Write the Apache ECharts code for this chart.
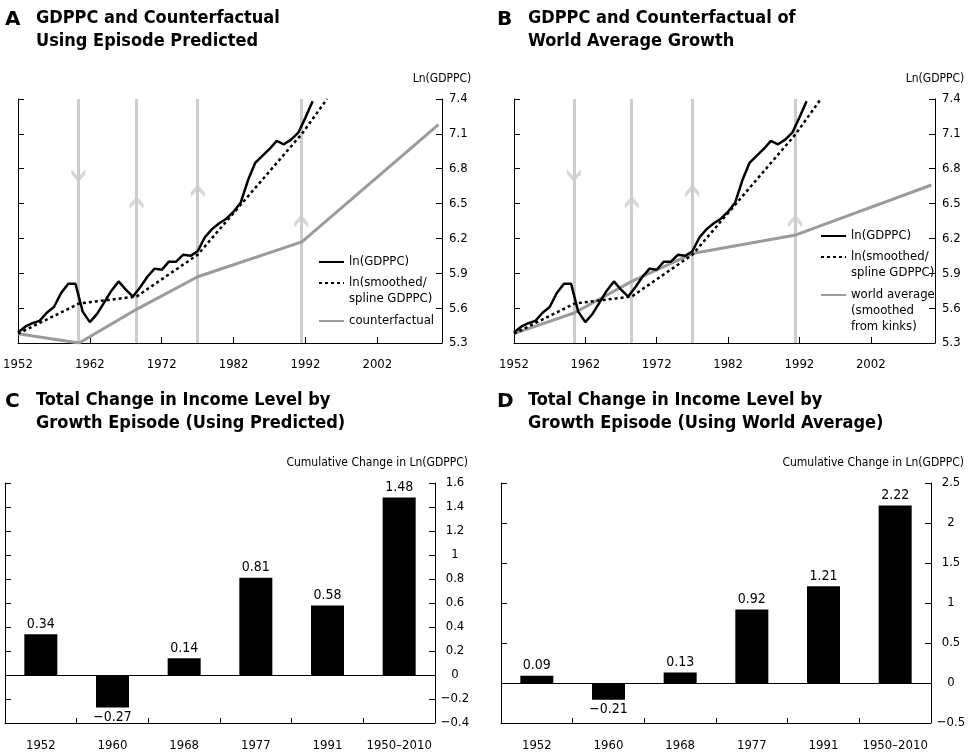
<!DOCTYPE html>
<html>
<head>
<meta charset="utf-8">
<script src="https://cdn.jsdelivr.net/npm/echarts@6/dist/echarts.min.js"></script>
<style>
html, body { margin: 0; padding: 0; background: #fff; }
#chart { width: 977px; height: 754px; }
</style>
</head>
<body>
<div id="chart"></div>
<script>
// panels A/B: ln GDP per capita, annual
const gdpYears = [1952, 1953, 1954, 1955, 1956, 1957, 1958, 1959, 1960, 1961,
  1962, 1963, 1964, 1965, 1966, 1967, 1968, 1969, 1970, 1971,
  1972, 1973, 1974, 1975, 1976, 1977, 1978, 1979, 1980, 1981,
  1982, 1983, 1984, 1985, 1986, 1987, 1988, 1989, 1990, 1991,
  1992, 1993];
const lnGdppc = [5.39, 5.44, 5.47, 5.49, 5.56, 5.61, 5.73, 5.81, 5.81, 5.57,
  5.48, 5.55, 5.65, 5.75, 5.83, 5.76, 5.70, 5.78, 5.87, 5.94,
  5.93, 6.00, 6.00, 6.06, 6.05, 6.09, 6.21, 6.28, 6.33, 6.37,
  6.43, 6.51, 6.70, 6.85, 6.91, 6.97, 7.04, 7.01, 7.05, 7.11,
  7.24, 7.38];

// smoothed / spline (kinked at episode breaks)
const smoothYears = [1952, 1960.5, 1968.5, 1977, 1991.5, 1995];
const smoothLn = [5.38, 5.64, 5.70, 6.06, 7.10, 7.40];

// counterfactual using episode predicted growth
const counterYears = [1952, 1960.5, 1968.5, 1977, 1991.5, 2010.5];
const counterLn = [5.38, 5.30, 5.59, 5.87, 6.17, 7.18];

// world average growth (smoothed from kinks)
const worldYears = [1952, 1960.5, 1968.5, 1977, 1991.5, 2010.5];
const worldLn = [5.38, 5.56, 5.83, 6.07, 6.23, 6.66];

// episode breaks and their direction arrows
const episodeYears = [1960.4, 1968.5, 1977, 1991.4];
const arrowLn = [6.74, 6.51, 6.61, 6.35];
const arrowDir = ['down', 'up', 'up', 'up'];

// axis ranges for A/B
const yearMin = 1952, yearMax = 2011, yearStep = 10;
const lnMin = 5.3, lnMax = 7.4, lnStep = 0.3;

// panels C/D: total change by growth episode
const episodes = ['1952', '1960', '1968', '1977', '1991', '1950–2010'];
const changePredicted = [0.34, -0.27, 0.14, 0.81, 0.58, 1.48];
const changeWorld = [0.09, -0.21, 0.13, 0.92, 1.21, 2.22];

const NARROW = "'DejaVu Sans Condensed', 'Liberation Sans Narrow', sans-serif";
const WIDE = "'DejaVu Sans', 'Liberation Sans', sans-serif";
const GRAY = '#9b9b9b';
const LIGHT = '#cdcdcd';

const upArrow = 'path://M0,8 L7,0 L14,8 L14,13 L7,5.5 L0,13 Z';
const downArrow = 'path://M0,5 L7,13 L14,5 L14,0 L7,7.5 L0,0 Z';

const minus = s => String(s).replace('-', '\u2212');
// A/B axes are shifted so the first tick sits on min
const pts = (xs, ys) => xs.map((x, i) => [x - yearMin, ys[i] - lnMin]);

const grids = [
  { left: 18, top: 99, width: 424, height: 244 },
  { left: 514, top: 99, width: 421, height: 244 },
  { left: 5, top: 483, width: 430, height: 240 },
  { left: 501, top: 483, width: 430, height: 240 }
];

const axisLine = { show: true, lineStyle: { color: '#000', width: 1 } };
const tickIn = { show: true, inside: true, length: 6, lineStyle: { color: '#000', width: 1 } };
const labelText = { color: '#000', fontFamily: NARROW, fontSize: 13 };

function yearAxis(g) {
  return {
    type: 'value', gridIndex: g, min: 0, max: yearMax - yearMin, interval: yearStep,
    axisLine: axisLine, axisTick: tickIn, splitLine: { show: false },
    axisLabel: Object.assign({ margin: 15, showMaxLabel: false,
      formatter: v => String(v + yearMin) }, labelText)
  };
}

function lnAxes(g) {
  const base = {
    type: 'value', gridIndex: g, min: 0, max: +(lnMax - lnMin).toFixed(1), interval: lnStep,
    axisLine: axisLine, axisTick: tickIn, splitLine: { show: false }
  };
  return [
    Object.assign({}, base, { position: 'left', axisLabel: { show: false } }),
    Object.assign({}, base, {
      position: 'right', name: 'Ln(GDPPC)', nameLocation: 'end', nameGap: 14,
      nameTextStyle: { color: '#000', fontFamily: NARROW, fontSize: 12, align: 'center' },
      axisLabel: Object.assign({ margin: 7, formatter: v => (v + lnMin).toFixed(1) }, labelText)
    })
  ];
}

function changeAxes(g, min, max, step) {
  const base = {
    type: 'value', gridIndex: g, min: min, max: max, interval: step,
    axisLine: axisLine, axisTick: tickIn, splitLine: { show: false }
  };
  return [
    Object.assign({}, base, { position: 'left', axisLabel: { show: false } }),
    Object.assign({}, base, {
      position: 'right', name: 'Cumulative Change in Ln(GDPPC)', nameLocation: 'end', nameGap: 14,
      nameTextStyle: { color: '#000', fontFamily: NARROW, fontSize: 12, align: 'right',
        padding: [0, -33, 0, 0] },
      axisLabel: Object.assign({ margin: 20, align: 'center',
        formatter: v => minus(+v.toFixed(1)) }, labelText)
    })
  ];
}

function episodeAxis(g) {
  return {
    type: 'category', gridIndex: g, data: episodes, position: 'bottom',
    axisLine: Object.assign({ onZero: false }, axisLine),
    axisTick: { show: true, inside: true, length: 5, lineStyle: { color: '#000' } },
    axisLabel: Object.assign({ margin: 16, interval: 0 }, labelText)
  };
}

function breaks(g) {
  return {
    type: 'scatter', xAxisIndex: g, yAxisIndex: g * 2 + 1, silent: true, z: 2,
    data: episodeYears.map((y, i) => ({
      value: [y - yearMin, arrowLn[i] - lnMin],
      symbol: arrowDir[i] === 'up' ? upArrow : downArrow
    })),
    symbolSize: [14, 13],
    itemStyle: { color: LIGHT },
    markLine: {
      silent: true, symbol: ['none', 'none'], z: 1, animation: false,
      label: { show: false },
      lineStyle: { color: LIGHT, width: 3, type: 'solid' },
      data: episodeYears.map(y => ({ xAxis: y - yearMin }))
    }
  };
}

function lineSeries(g, name, xs, ys, color, type, width, z) {
  return {
    type: 'line', name: name, xAxisIndex: g, yAxisIndex: g * 2 + 1, z: z,
    data: pts(xs, ys), symbol: 'none', silent: true,
    lineStyle: { color: color, width: width, type: type }, itemStyle: { color: color }
  };
}

function barSeries(g, values) {
  return {
    type: 'bar', xAxisIndex: g, yAxisIndex: g * 2 + 1, barWidth: 33, silent: true,
    itemStyle: { color: '#000' },
    data: values.map(v => v < 0 ? { value: v, label: { position: 'bottom' } } : v),
    label: {
      show: true, position: 'top', distance: 3, color: '#000', fontFamily: NARROW, fontSize: 14,
      formatter: p => minus(p.value.toFixed(2))
    },
    markLine: {
      silent: true, symbol: ['none', 'none'], animation: false, label: { show: false },
      lineStyle: { color: '#000', width: 1, type: 'solid' },
      data: [{ yAxis: 0 }]
    }
  };
}

// one legend per entry; blank leading lines keep the key beside the first text line
function legendEntry(name, left, firstLineY) {
  const lines = name.split('\n').length;
  return {
    data: [name], left: left, top: firstLineY - (2 * lines - 1) * 8,
    orient: 'vertical', padding: 0, selectedMode: false,
    itemWidth: 25, itemHeight: 14, itemGap: 0,
    itemStyle: { opacity: 0 },
    formatter: n => '\n'.repeat(lines - 1) + n,
    textStyle: { color: '#000', fontFamily: NARROW, fontSize: 13, lineHeight: 16 }
  };
}

function titlePair(letter, text, x, y) {
  return [
    { text: letter, left: x, top: y + 3, padding: 0,
      textStyle: { fontFamily: WIDE, fontWeight: 'bold', fontSize: 20, color: '#000' } },
    { text: text, left: x + 31, top: y, padding: 0,
      textStyle: { fontFamily: NARROW, fontWeight: 'bold', fontSize: 18, lineHeight: 23, color: '#000' } }
  ];
}

const nameGdp = 'ln(GDPPC)';
const nameSmooth = 'ln(smoothed/\nspline GDPPC)';
const nameCounter = 'counterfactual';
const nameWorld = 'world average\n(smoothed\nfrom kinks)';

const chart = echarts.init(document.getElementById('chart'), null, { renderer: 'canvas' });
chart.setOption({
  animation: false,
  backgroundColor: '#fff',
  title: [].concat(
    titlePair('A', 'GDPPC and Counterfactual\nUsing Episode Predicted', 5, 7),
    titlePair('B', 'GDPPC and Counterfactual of\nWorld Average Growth', 497, 7),
    titlePair('C', 'Total Change in Income Level by\nGrowth Episode (Using Predicted)', 5, 389),
    titlePair('D', 'Total Change in Income Level by\nGrowth Episode (Using World Average)', 497, 389)
  ),
  legend: [
    legendEntry(nameGdp, 318, 262),
    legendEntry(nameSmooth, 318, 283),
    legendEntry(nameCounter, 318, 321),
    legendEntry(nameGdp, 820, 236),
    legendEntry(nameSmooth, 820, 257),
    legendEntry(nameWorld, 820, 295)
  ],
  grid: grids,
  xAxis: [yearAxis(0), yearAxis(1), episodeAxis(2), episodeAxis(3)],
  yAxis: [].concat(lnAxes(0), lnAxes(1), changeAxes(2, -0.4, 1.6, 0.2), changeAxes(3, -0.5, 2.5, 0.5)),
  series: [
    breaks(0),
    lineSeries(0, nameCounter, counterYears, counterLn, GRAY, 'solid', 3, 4),
    lineSeries(0, nameSmooth, smoothYears, smoothLn, '#000', [3, 3], 2.5, 5),
    lineSeries(0, nameGdp, gdpYears, lnGdppc, '#000', 'solid', 2.5, 6),
    breaks(1),
    lineSeries(1, nameWorld, worldYears, worldLn, GRAY, 'solid', 3, 4),
    lineSeries(1, nameSmooth, smoothYears, smoothLn, '#000', [3, 3], 2.5, 5),
    lineSeries(1, nameGdp, gdpYears, lnGdppc, '#000', 'solid', 2.5, 6),
    barSeries(2, changePredicted),
    barSeries(3, changeWorld)
  ]
});
</script>
</body>
</html>
